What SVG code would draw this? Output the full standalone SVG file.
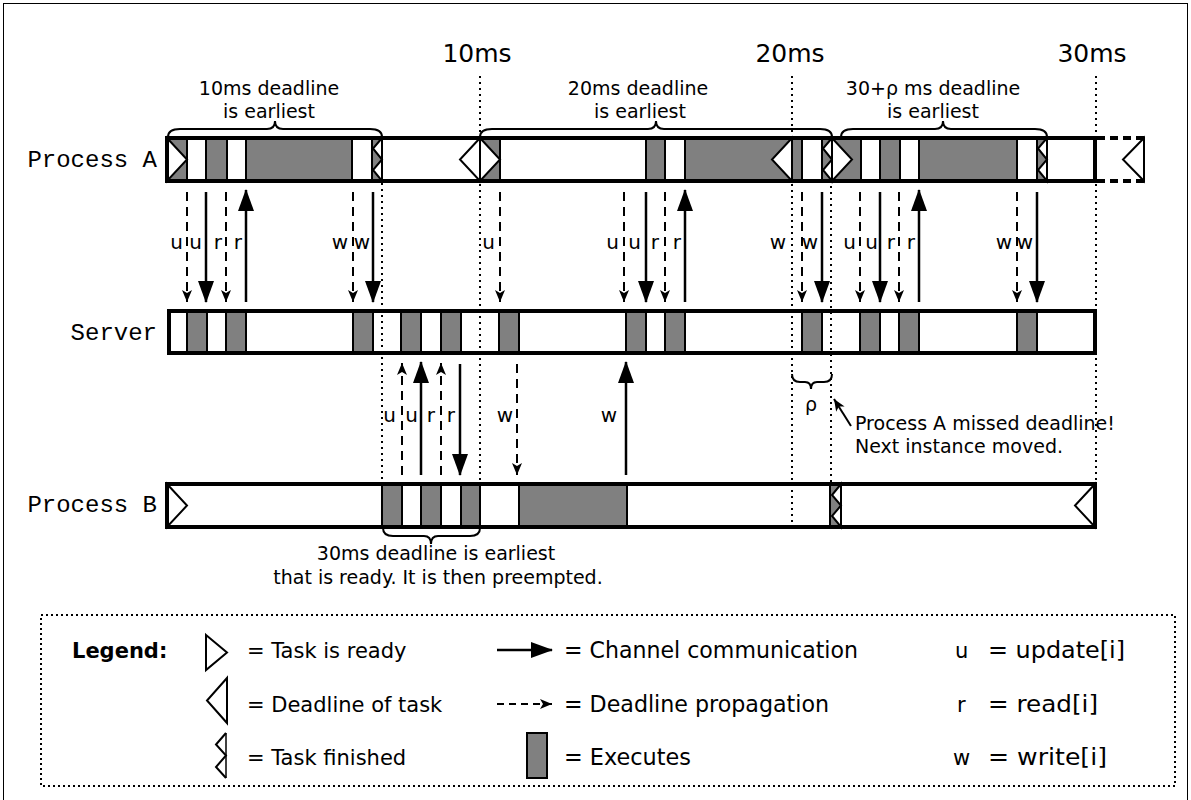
<svg xmlns="http://www.w3.org/2000/svg" width="1191" height="800" viewBox="0 0 1191 800">
<defs>
<style>
.bg{fill:#fff;stroke:none}
.bar{fill:none;stroke:#000;stroke-width:4}
.ex{fill:#808080;stroke:#000;stroke-width:2}
.tri{fill:#fff;stroke:#000;stroke-width:2;stroke-linejoin:miter}
.dot{stroke:#000;stroke-width:2;stroke-dasharray:2,4;fill:none}
.sol{stroke:#000;stroke-width:2.5;fill:none;marker-end:url(#big)}
.dsh{stroke:#000;stroke-width:2;stroke-dasharray:9,6;fill:none;marker-end:url(#small)}
.brace{fill:none;stroke:#000;stroke-width:2}
.t{font-family:"DejaVu Sans","Noto Sans",sans-serif;fill:#000}
.lbl{font-family:"DejaVu Sans","Noto Sans",sans-serif;font-size:20px;text-anchor:end}
.mono{font-family:"Liberation Mono","DejaVu Sans Mono",monospace;font-size:24px;text-anchor:end}
.nar{font-family:"DejaVu Sans","Noto Sans",sans-serif;font-size:22.5px}
</style>
<marker id="big" markerUnits="userSpaceOnUse" viewBox="0 0 22 16" refX="21" refY="8" markerWidth="22" markerHeight="16" orient="auto">
<path d="M0,0 L22,8 L0,16 Z" fill="#000"/>
</marker>
<marker id="small" markerUnits="userSpaceOnUse" viewBox="0 0 12 10" refX="12" refY="5" markerWidth="12" markerHeight="10" orient="auto">
<path d="M0,0 L12,5 L0,10 L3,5 Z" fill="#000"/>
</marker>
</defs>
<rect x="0" y="0" width="1191" height="800" fill="#fff"/>
<rect x="3.5" y="3.5" width="1184" height="800" fill="none" stroke="#000" stroke-width="1"/>

<g id="time-labels" class="t" font-size="25" text-anchor="middle">
<text x="477" y="62">10ms</text>
<text x="790" y="62">20ms</text>
<text x="1092" y="62">30ms</text>
</g>

<g id="bar-backgrounds">
<rect class="bg" x="167" y="138" width="928" height="43"/>
<rect class="bg" x="169" y="311" width="926" height="42"/>
<rect class="bg" x="167" y="484" width="928" height="43"/>
</g>

<g id="time-lines">
<line class="dot" x1="382" y1="183" x2="382" y2="528"/>
<line class="dot" x1="480" y1="76" x2="480" y2="528"/>
<line class="dot" x1="792" y1="76" x2="792" y2="527"/>
<line class="dot" x1="831" y1="138" x2="831" y2="527"/>
<line class="dot" x1="1096" y1="76" x2="1096" y2="484"/>
</g>

<g id="process-a">
<text class="mono" x="157" y="167">Process A</text>
<rect class="ex" x="167" y="138" width="20" height="43"/>
<rect class="ex" x="206" y="138" width="21" height="43"/>
<rect class="ex" x="246" y="138" width="106" height="43"/>
<rect class="ex" x="372" y="138" width="10" height="43"/>
<rect class="ex" x="480" y="138" width="20" height="43"/>
<rect class="ex" x="646" y="138" width="19" height="43"/>
<rect class="ex" x="685" y="138" width="117" height="43"/>
<rect class="ex" x="822" y="138" width="39" height="43"/>
<rect class="ex" x="880" y="138" width="20" height="43"/>
<rect class="ex" x="919" y="138" width="98" height="43"/>
<rect class="ex" x="1037" y="138" width="10" height="43"/>
<polygon class="tri" points="167,138 187,159.5 167,181"/>
<polygon class="tri" points="382,138 373,148.5 382,159.5 373,170 382,181"/>
<polygon class="tri" points="480,138 460,159.5 480,181"/>
<polygon class="tri" points="480,138 500,159.5 480,181"/>
<polygon class="tri" points="792,138 772,159.5 792,181"/>
<polygon class="tri" points="832,138 823,148.5 832,159.5 823,170 832,181"/>
<polygon class="tri" points="832,138 852,159.5 832,181"/>
<polygon class="tri" points="1047,138 1038,148.5 1047,159.5 1038,170 1047,181"/>
<rect class="bar" x="167" y="138" width="928" height="43"/>
<line x1="1097" y1="138" x2="1144" y2="138" stroke="#000" stroke-width="4" stroke-dasharray="8,5"/>
<line x1="1097" y1="181" x2="1144" y2="181" stroke="#000" stroke-width="4" stroke-dasharray="8,5"/>
<polygon class="tri" points="1144,138 1123,159.5 1144,181"/>
</g>

<g id="server">
<text class="mono" x="157" y="340">Server</text>
<rect class="ex" x="187" y="311" width="20" height="42"/>
<rect class="ex" x="226" y="311" width="20" height="42"/>
<rect class="ex" x="353" y="311" width="20" height="42"/>
<rect class="ex" x="401" y="311" width="20" height="42"/>
<rect class="ex" x="441" y="311" width="20" height="42"/>
<rect class="ex" x="499" y="311" width="20" height="42"/>
<rect class="ex" x="626" y="311" width="20" height="42"/>
<rect class="ex" x="665" y="311" width="20" height="42"/>
<rect class="ex" x="802" y="311" width="20" height="42"/>
<rect class="ex" x="860" y="311" width="20" height="42"/>
<rect class="ex" x="899" y="311" width="20" height="42"/>
<rect class="ex" x="1017" y="311" width="20" height="42"/>
<rect class="bar" x="169" y="311" width="926" height="42"/>
</g>

<g id="process-b">
<text class="mono" x="157" y="512">Process B</text>
<rect class="ex" x="382" y="484" width="20" height="43"/>
<rect class="ex" x="421" y="484" width="20" height="43"/>
<rect class="ex" x="461" y="484" width="19" height="43"/>
<rect class="ex" x="519" y="484" width="108" height="43"/>
<rect class="ex" x="830" y="484" width="11" height="43"/>
<polygon class="tri" points="167,484 187,505.5 167,527"/>
<polygon class="tri" points="841,484 832,495 841,505.5 832,516 841,527"/>
<polygon class="tri" points="1095,484 1075,505.5 1095,527"/>
<rect class="bar" x="167" y="484" width="928" height="43"/>
</g>

<g id="annotations">
<path class="brace" d="M168,137 Q168,129 180,129 L267,129 Q275,129 275,121 Q275,129 283,129 L370,129 Q382,129 382,137"/>
<path class="brace" d="M480,137 Q480,129 492,129 L648,129 Q656,129 656,121 Q656,129 664,129 L820,129 Q832,129 832,137"/>
<path class="brace" d="M841,137 Q841,129 853,129 L935,129 Q943,129 943,121 Q943,129 951,129 L1035,129 Q1047,129 1047,137"/>
<path class="brace" d="M792,374 Q792,382 800,382 L805,382 Q811,382 811,389 Q811,382 817,382 L824,382 Q832,382 832,374"/>
<path class="brace" d="M383,528 Q383,536 393,536 L424,536 Q431,536 431,544 Q431,536 438,536 L470,536 Q480,536 480,528"/>
<g class="t" font-size="19" text-anchor="middle">
<text x="269" y="95">10ms deadline</text>
<text x="269" y="118">is earliest</text>
<text x="638" y="95">20ms deadline</text>
<text x="640" y="118">is earliest</text>
<text x="933" y="95">30+ρ ms deadline</text>
<text x="933" y="118">is earliest</text>
<text x="436" y="560">30ms deadline is earliest</text>
<text x="438" y="584">that is ready. It is then preempted.</text>
<text x="811" y="411">ρ</text>
</g>
<g class="t" font-size="19">
<text x="855" y="430">Process A missed deadline!</text>
<text x="855" y="453">Next instance moved.</text>
</g>
</g>

<g id="connectors">
<line x1="851" y1="426" x2="834" y2="399" stroke="#000" stroke-width="2" marker-end="url(#small)"/>
<line class="dsh" x1="187" y1="192" x2="187" y2="302"/>
<line class="sol" x1="206" y1="192" x2="206" y2="302"/>
<line class="dsh" x1="226" y1="192" x2="226" y2="302"/>
<line class="sol" x1="246" y1="302" x2="246" y2="190"/>
<line class="dsh" x1="353" y1="192" x2="353" y2="302"/>
<line class="sol" x1="373" y1="192" x2="373" y2="302"/>
<line class="dsh" x1="500" y1="192" x2="500" y2="302"/>
<line class="dsh" x1="624" y1="192" x2="624" y2="302"/>
<line class="sol" x1="646" y1="192" x2="646" y2="302"/>
<line class="dsh" x1="665" y1="192" x2="665" y2="302"/>
<line class="sol" x1="685" y1="302" x2="685" y2="190"/>
<line class="dsh" x1="802" y1="192" x2="802" y2="302"/>
<line class="sol" x1="822" y1="192" x2="822" y2="302"/>
<line class="dsh" x1="860" y1="192" x2="860" y2="302"/>
<line class="sol" x1="880" y1="192" x2="880" y2="302"/>
<line class="dsh" x1="899" y1="192" x2="899" y2="302"/>
<line class="sol" x1="919" y1="302" x2="919" y2="190"/>
<line class="dsh" x1="1017" y1="192" x2="1017" y2="302"/>
<line class="sol" x1="1037" y1="192" x2="1037" y2="302"/>
<line class="dsh" x1="402" y1="475" x2="402" y2="363"/>
<line class="sol" x1="421" y1="475" x2="421" y2="362"/>
<line class="dsh" x1="441" y1="475" x2="441" y2="363"/>
<line class="sol" x1="460" y1="364" x2="460" y2="475"/>
<line class="dsh" x1="517" y1="364" x2="517" y2="475"/>
<line class="sol" x1="626" y1="475" x2="626" y2="362"/>
<g class="lbl">
<text x="183" y="249">u</text>
<text x="202" y="249">u</text>
<text x="222" y="249">r</text>
<text x="242" y="249">r</text>
<text x="348" y="249">w</text>
<text x="370" y="249">w</text>
<text x="495" y="249">u</text>
<text x="619" y="249">u</text>
<text x="641" y="249">u</text>
<text x="659" y="249">r</text>
<text x="681" y="249">r</text>
<text x="786" y="249">w</text>
<text x="818" y="249">w</text>
<text x="856" y="249">u</text>
<text x="878" y="249">u</text>
<text x="895" y="249">r</text>
<text x="915" y="249">r</text>
<text x="1012" y="249">w</text>
<text x="1033" y="249">w</text>
<text x="396" y="422">u</text>
<text x="418" y="422">u</text>
<text x="435" y="422">r</text>
<text x="455" y="422">r</text>
<text x="513" y="422">w</text>
<text x="617" y="422">w</text>
</g>
</g>

<g id="legend">
<rect x="41" y="615" width="1134" height="171" fill="none" stroke="#000" stroke-width="2" stroke-dasharray="2,3"/>
<text class="t" x="72" y="658" font-size="21" font-weight="bold">Legend:</text>
<polygon class="tri" points="206,635 227,652.5 206,670"/>
<polygon class="tri" points="227,678 207,700.5 227,723"/>
<polyline points="226,733 216,744.5 226,755.5 216,767 226,778" fill="none" stroke="#000" stroke-width="2"/>
<line x1="226" y1="733" x2="226" y2="778" stroke="#000" stroke-width="1.5"/>
<g class="t" font-size="21">
<text x="247" y="658">= Task is ready</text>
<text x="247" y="712">= Deadline of task</text>
<text x="247" y="765">= Task finished</text>
</g>
<line x1="497" y1="650" x2="552" y2="650" stroke="#000" stroke-width="2.5" marker-end="url(#big)"/>
<line x1="497" y1="704" x2="552" y2="704" stroke="#000" stroke-width="2" stroke-dasharray="7,5" marker-end="url(#small)"/>
<rect class="ex" x="527" y="733" width="20" height="45"/>
<g class="nar">
<text x="564" y="658" textLength="294" lengthAdjust="spacingAndGlyphs">= Channel communication</text>
<text x="564" y="712" textLength="265" lengthAdjust="spacingAndGlyphs">= Deadline propagation</text>
<text x="564" y="765" textLength="127" lengthAdjust="spacingAndGlyphs">= Executes</text>
<text x="955" y="658" font-size="21">u</text>
<text x="957" y="712" font-size="21">r</text>
<text x="953" y="765" font-size="21">w</text>
<text x="988" y="658" textLength="137" lengthAdjust="spacingAndGlyphs">= update[i]</text>
<text x="988" y="712" textLength="110" lengthAdjust="spacingAndGlyphs">= read[i]</text>
<text x="988" y="765" textLength="119" lengthAdjust="spacingAndGlyphs">= write[i]</text>
</g>
</g>
</svg>
